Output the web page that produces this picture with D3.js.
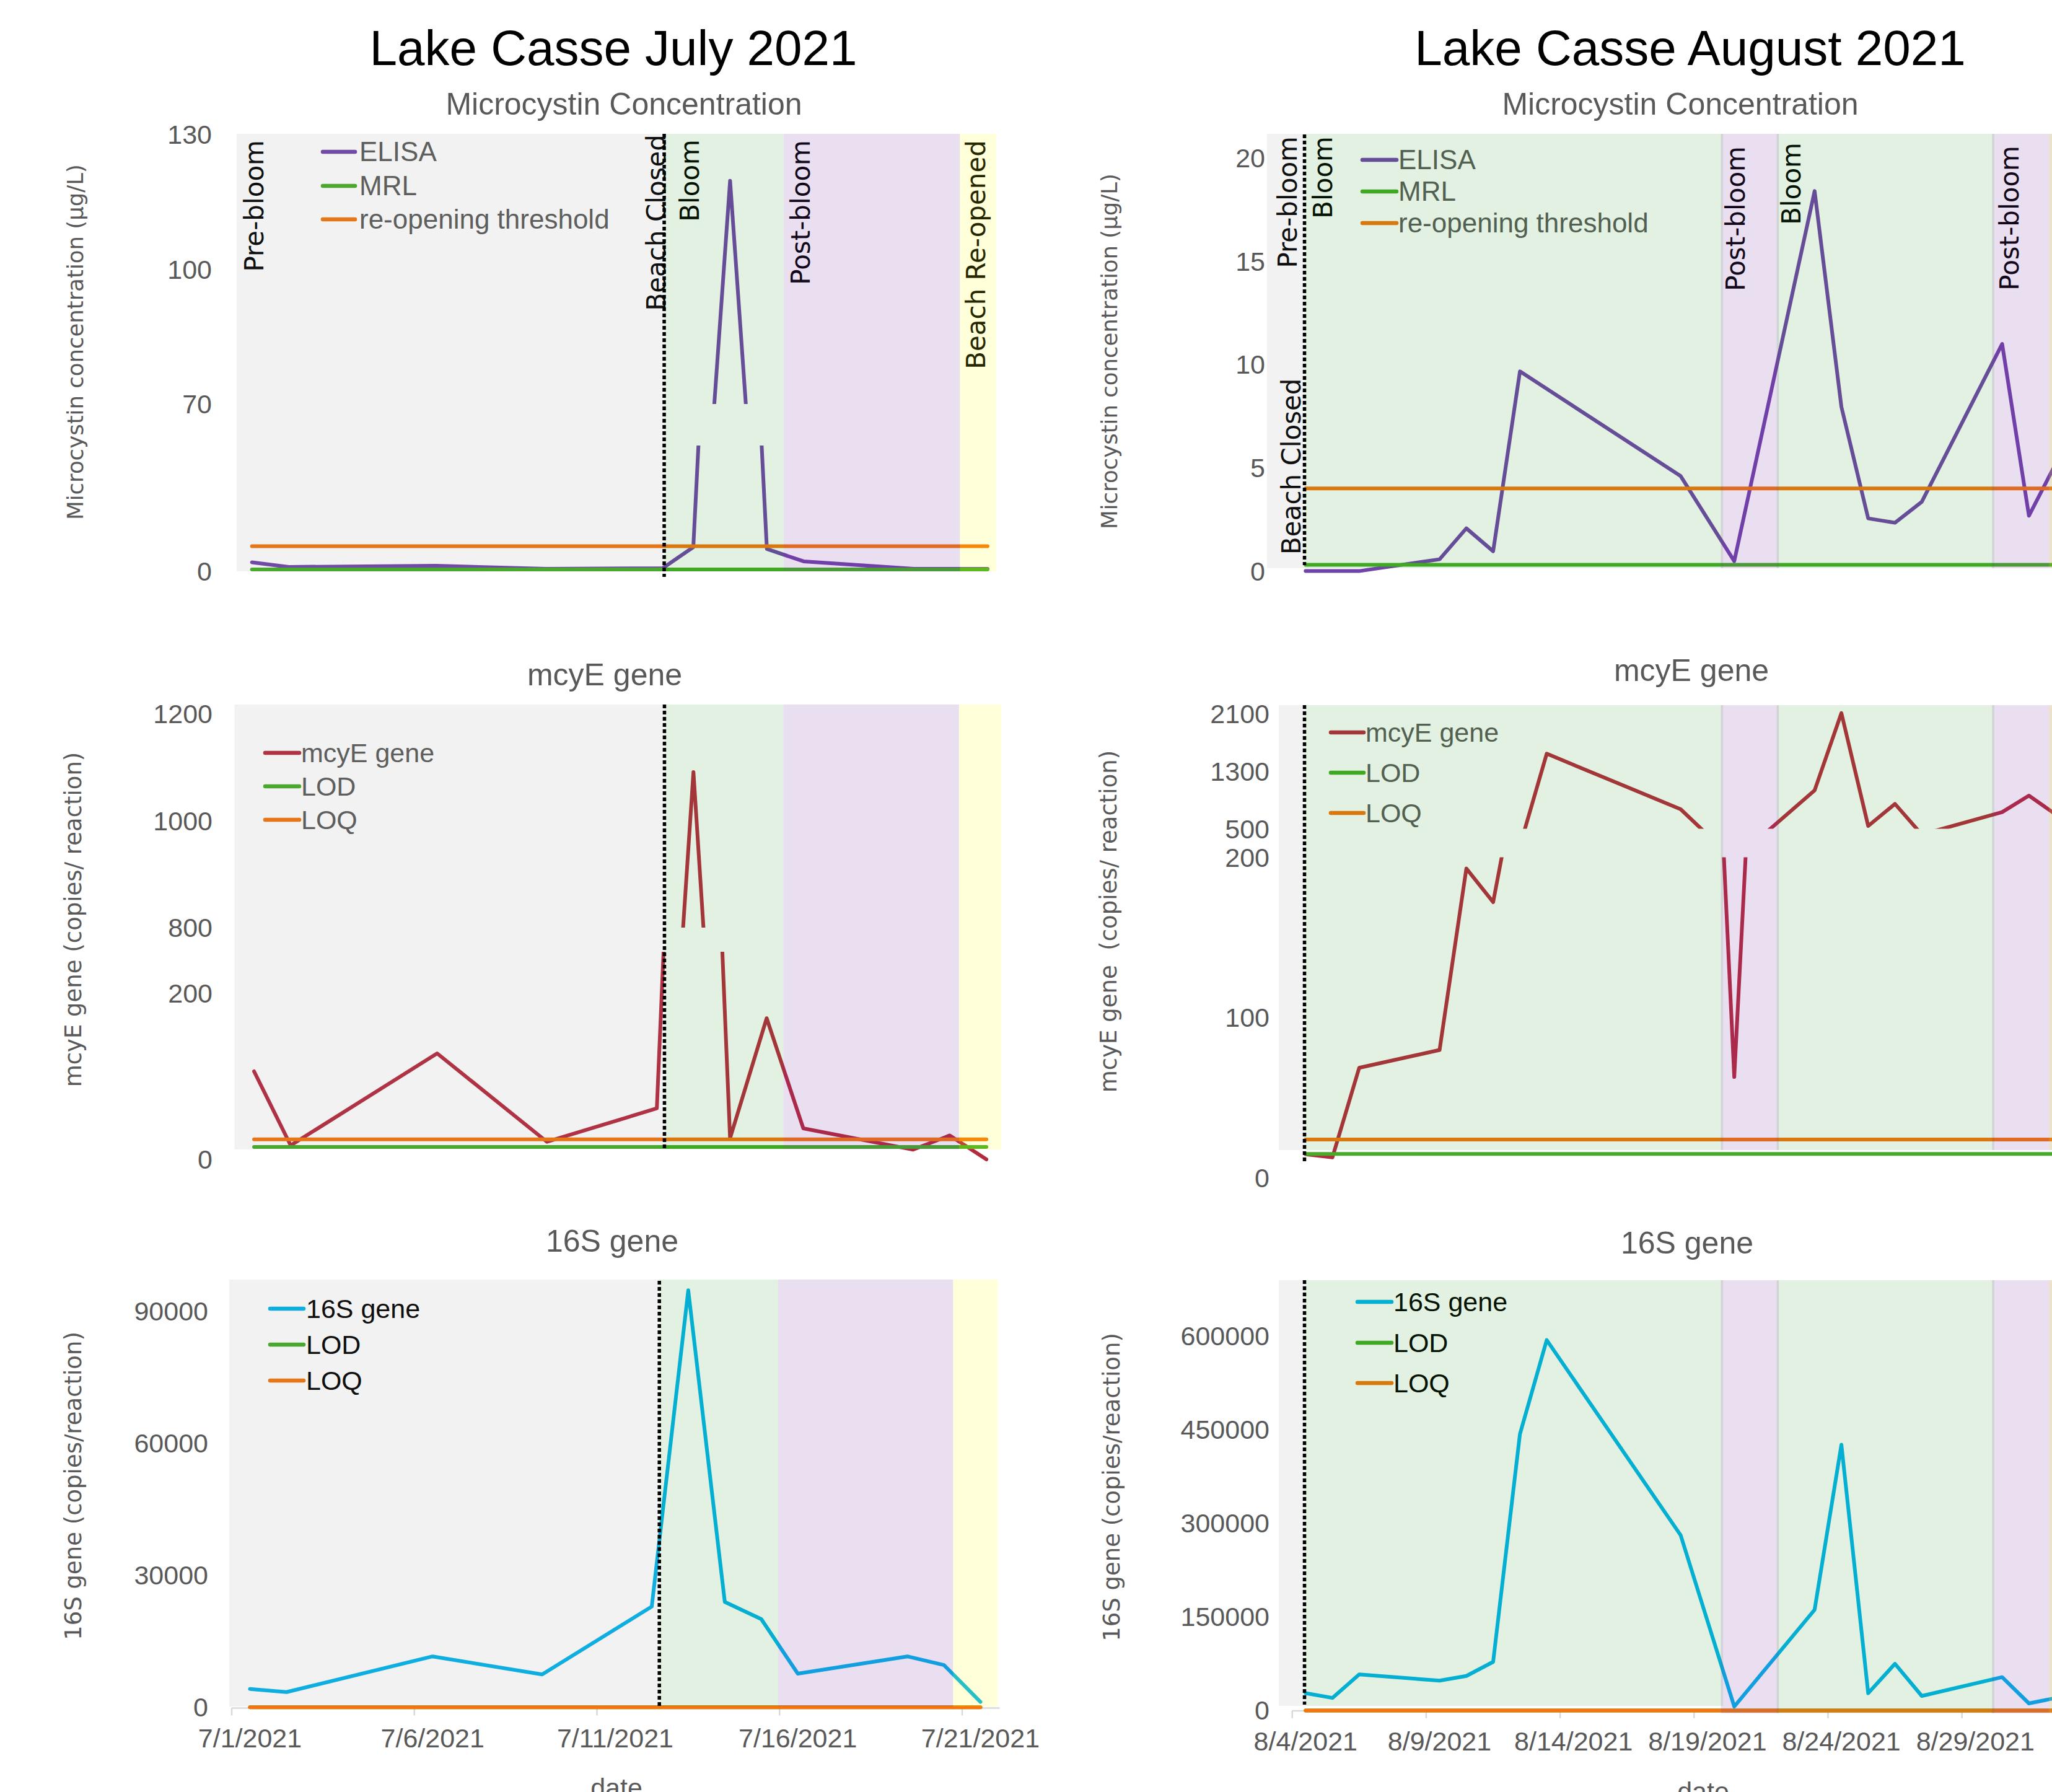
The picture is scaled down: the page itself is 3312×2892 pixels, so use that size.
<!DOCTYPE html>
<html><head><meta charset="utf-8">
<script src="https://cdn.jsdelivr.net/npm/d3@7"></script>
<style>
html,body{margin:0;padding:0;background:#fff;}
svg{display:block;}
</style></head><body>
<script>
// ================= DATA =================
const julyDates = ["2021-07-01 12:00","2021-07-02 12:00","2021-07-06 12:00","2021-07-09 12:00","2021-07-12 12:00","2021-07-13 12:00","2021-07-14 12:00","2021-07-15 12:00","2021-07-16 12:00","2021-07-19 12:00","2021-07-20 12:00","2021-07-21 12:00"];
const julyElisaDates = ["2021-07-01 12:00","2021-07-02 12:00","2021-07-06 12:00","2021-07-09 12:00","2021-07-12 16:00","2021-07-13 12:00","2021-07-14 12:00","2021-07-15 12:00","2021-07-16 12:00","2021-07-19 12:00","2021-07-20 12:00","2021-07-21 12:00"];
const julyElisa = [1.43, 0.69, 0.89, 0.39, 0.49, 3.84, 119.7, 3.55, 1.58, 0.39, 0.39, 0.39];
const julyMcyE  = [106, 16.8, 127.6, 21.1, 61.4, 1091, 25.4, 170, 37.3, 11.7, 28.8, 0];
const july16S   = [4190, 3470, 11580, 7480, 22900, 94800, 23970, 20050, 7660, 11580, 9620, 1250];

const augDates = ["2021-08-04 12:00","2021-08-05 12:00","2021-08-06 12:00","2021-08-09 12:00","2021-08-10 12:00","2021-08-11 12:00","2021-08-12 12:00","2021-08-13 12:00","2021-08-18 12:00","2021-08-20 12:00","2021-08-23 12:00","2021-08-24 12:00","2021-08-25 12:00","2021-08-26 12:00","2021-08-27 12:00","2021-08-30 12:00","2021-08-31 12:00","2021-09-01 12:00"];
const augElisa = [0, 0, 0, 0.57, 2.07, 0.96, 9.67, null, 4.6, 0.48, 18.4, 7.95, 2.55, 2.34, 3.35, 11.0, 2.68, 5.2];
const augMcyE  = [14.8, 12.8, 68.7, 79.8, 193, 172, 260, 1545, 772, 63, 1035, 2110, 539, 846, 420, 732, 961, 700];
const aug16S   = [27600, 20100, 57700, 47700, 55200, 77800, 442500, 593000, 280500, 6300, 161300, 425500, 27600, 74700, 23200, 53300, 11300, 20000];

const mrlValue = 0.3;          // µg/L
const thresholdValue = 4;      // µg/L re-opening threshold
const lodValue = 15;           // copies/reaction
const loqValue = 24;           // copies/reaction

// y tick labels
const julyElisaTicks = [0, 70, 100, 130];
const julyMcyETicks  = [0, 200, 800, 1000, 1200];
const july16STicks   = [0, 30000, 60000, 90000];
const augElisaTicks  = [0, 5, 10, 15, 20];
const augMcyETicks   = [0, 100, 200, 500, 1300, 2100];
const aug16STicks    = [0, 150000, 300000, 450000, 600000];

// broken-axis segments (value domains)
const julyElisaSegments = [[0, 20], [70, 130]];
const julyMcyESegments  = [[0, 250], [800, 1200]];
const july16SSegments   = [[0, 90000]];
const augElisaSegments  = [[0, 20]];
const augMcyESegments   = [[0, 200], [500, 2100]];
const aug16SSegments    = [[0, 600000]];

// x tick dates
const julyXTicks = ["2021-07-01 00:00","2021-07-06 00:00","2021-07-11 00:00","2021-07-16 00:00","2021-07-21 00:00"];
const augXTicks  = ["2021-08-04 00:00","2021-08-09 00:00","2021-08-14 00:00","2021-08-19 00:00","2021-08-24 00:00","2021-08-29 00:00"];

// phases (shaded periods)
const julyPhases = [
  {kind:"gray",   start:null,               end:"2021-07-12 17:00"},
  {kind:"green",  start:"2021-07-12 17:00", end:"2021-07-15 23:00"},
  {kind:"purple", start:"2021-07-15 23:00", end:"2021-07-20 18:00"},
  {kind:"yellow", start:"2021-07-20 18:00", end:null}
];
const augPhases = [
  {kind:"gray",   start:null,               end:"2021-08-04 11:00"},
  {kind:"green",  start:"2021-08-04 11:00", end:"2021-08-20 02:00"},
  {kind:"purple", start:"2021-08-20 00:00", end:"2021-08-22 04:00"},
  {kind:"green",  start:"2021-08-22 02:00", end:"2021-08-30 05:00"},
  {kind:"purple", start:"2021-08-30 03:00", end:null},
  {kind:"yellow", start:"2021-09-01 06:00", end:null}
];
const julyBeachClosed = "2021-07-12 17:00";
const augBeachClosed  = "2021-08-04 11:00";

const julyPhaseLabels = [
  {text:"Pre-bloom",       at:"2021-07-01 19:25"},
  {text:"Beach Closed",    at:"2021-07-12 17:48"},
  {text:"Bloom",           at:"2021-07-13 15:39"},
  {text:"Post-bloom",      at:"2021-07-16 16:00"},
  {text:"Beach Re-opened", at:"2021-07-21 10:26"}
];
const augPhaseLabels = [
  {text:"Pre-bloom",    at:"2021-08-04 04:03"},
  {text:"Beach Closed", at:"2021-08-04 07:23"},
  {text:"Bloom",        at:"2021-08-05 11:41"},
  {text:"Post-bloom",   at:"2021-08-20 21:21"},
  {text:"Bloom",        at:"2021-08-22 23:17"},
  {text:"Post-bloom",   at:"2021-08-31 02:40"}
];

// ================= STYLE / LAYOUT =================
const W = 3312, H = 2892;
const T = d3.timeParse("%Y-%m-%d %H:%M");
const TXT = "#595959";
const COL = {elisa:"#7043aa", mrl:"#44ac26", thr:"#f3750c", mcye:"#b5293d", s16:"#00b4ec"};
const OVER = {gray:"rgba(128,140,128,0.11)", green:"rgba(40,150,30,0.13)", purple:"rgba(112,48,160,0.155)", yellow:"rgba(255,255,0,0.15)"};
const SANS = '"Liberation Sans", Arial, sans-serif';
const WIDE = '"DejaVu Sans", Verdana, sans-serif';
const LW = 6;

const svg = d3.select("body").append("svg").attr("width", W).attr("height", H)
  .style("font-family", SANS);
svg.append("rect").attr("width", W).attr("height", H).attr("fill", "#fff");
const defs = svg.append("defs");

// main titles
[["Lake Casse July 2021", 990], ["Lake Casse August 2021", 2728]].forEach(([t, cx]) => {
  svg.append("text").attr("x", cx).attr("y", 105).attr("text-anchor", "middle")
    .attr("font-size", 80).attr("fill", "#000").text(t);
});

function constSeries(dates, v) { return {dates:[dates[0], dates[dates.length-1]], values:[v, v]}; }

const julyDom = [T("2021-07-01 00:00"), T("2021-07-22 00:00")];
const augDom  = [T("2021-08-04 00:00"), T("2021-09-04 00:00")];

const panels = [
  { id:"jt", title:"Microcystin Concentration", titleX:1007, titleY:185,
    ytitle:"Microcystin concentration (µg/L)", ytX:121, ytY:552, ytSize:35.5,
    xDom:julyDom, xr:[377, 1623.6], bgX:[382, 1608], bgY:[216, 922],
    segs:julyElisaSegments, segR:[[922, 719], [652, 217]], ticks:julyElisaTicks, tickX:342,
    series:[
      {dates:julyElisaDates, values:julyElisa, color:COL.elisa},
      {...constSeries(julyElisaDates, mrlValue), color:COL.mrl},
      {...constSeries(julyElisaDates, thresholdValue), color:COL.thr}],
    legend:{x0:521, x1:573, tx:580, ys:[245, 300, 354], size:44, color:TXT,
      names:["ELISA","MRL","re-opening threshold"], colors:[COL.elisa, COL.mrl, COL.thr]},
    phases:julyPhases, closed:julyBeachClosed, dotY:[216, 931],
    labels:julyPhaseLabels, labelTops:[226, 217, 225, 226, 226] },
  { id:"jm", title:"mcyE gene", titleX:976, titleY:1106,
    ytitle:"mcyE gene (copies/ reaction)", ytX:118, ytY:1484, ytSize:37,
    xDom:julyDom, xr:[380.5, 1621.6], bgX:[378.5, 1616], bgY:[1137, 1855],
    segs:julyMcyESegments, segR:[[1871, 1536], [1497, 1152]], ticks:julyMcyETicks, tickX:343,
    series:[
      {dates:julyDates, values:julyMcyE, color:COL.mcye},
      {...constSeries(julyDates, lodValue), color:COL.mrl},
      {...constSeries(julyDates, loqValue), color:COL.thr}],
    legend:{x0:428, x1:483, tx:486, ys:[1215, 1269, 1323], size:43, color:TXT,
      names:["mcyE gene","LOD","LOQ"], colors:[COL.mcye, COL.mrl, COL.thr]},
    phases:julyPhases, closed:julyBeachClosed, dotY:[1137, 1855] },
  { id:"jb", title:"16S gene", titleX:988, titleY:2020,
    ytitle:"16S gene (copies/reaction)", ytX:118, ytY:2398, ytSize:37,
    xDom:julyDom, xr:[374, 1611.95], bgX:[370, 1610.6], bgY:[2065, 2754],
    segs:july16SSegments, segR:[[2755.4, 2116.4]], ticks:july16STicks, tickX:336,
    series:[
      {dates:julyDates, values:july16S, color:COL.s16},
      {...constSeries(julyDates, lodValue), color:COL.mrl},
      {...constSeries(julyDates, loqValue), color:COL.thr}],
    legend:{x0:436, x1:490, tx:494, ys:[2112, 2170, 2228], size:43, color:"#000",
      names:["16S gene","LOD","LOQ"], colors:[COL.s16, COL.mrl, COL.thr]},
    phases:julyPhases, closed:julyBeachClosed, dotY:[2067, 2755],
    xaxis:{ticks:julyXTicks, y:2756.5, x0:374, labelY:2820, titleX:995, titleY:2900} },
  { id:"at", title:"Microcystin Concentration", titleX:2712, titleY:185,
    ytitle:"Microcystin concentration (µg/L)", ytX:1790, ytY:567, ytSize:35.5,
    xDom:augDom, xr:[2085.7, 3426.1], bgX:[2045, 3420], bgY:[216, 917],
    segs:augElisaSegments, segR:[[921.6, 255.1]], ticks:augElisaTicks, tickX:2042,
    series:[
      {dates:augDates, values:augElisa, color:COL.elisa},
      {...constSeries(augDates, mrlValue), color:COL.mrl},
      {...constSeries(augDates, thresholdValue), color:COL.thr}],
    legend:{x0:2199, x1:2254, tx:2257, ys:[258, 309, 360], size:44, color:TXT,
      names:["ELISA","MRL","re-opening threshold"], colors:[COL.elisa, COL.mrl, COL.thr]},
    phases:augPhases, closed:augBeachClosed, dotY:[217, 912],
    labels:augPhaseLabels, labelTops:[220, null, 220, 236, 230, 235], labelBottoms:[null, 895] },
  { id:"am", title:"mcyE gene", titleX:2730, titleY:1099,
    ytitle:"mcyE gene  (copies/ reaction)", ytX:1789, ytY:1487, ytSize:37,
    xDom:augDom, xr:[2085.7, 3426.1], bgX:[2064, 3420], bgY:[1138, 1856],
    segs:augMcyESegments, segR:[[1901, 1383.5], [1337.5, 1152]], ticks:augMcyETicks, tickX:2049,
    series:[
      {dates:augDates, values:augMcyE, color:COL.mcye},
      {...constSeries(augDates, lodValue), color:COL.mrl},
      {...constSeries(augDates, loqValue), color:COL.thr}],
    legend:{x0:2148, x1:2201, tx:2204, ys:[1182, 1247, 1312], size:43, color:TXT,
      names:["mcyE gene","LOD","LOQ"], colors:[COL.mcye, COL.mrl, COL.thr]},
    phases:augPhases, closed:augBeachClosed, dotY:[1138, 1876] },
  { id:"ab", title:"16S gene", titleX:2723, titleY:2023,
    ytitle:"16S gene (copies/reaction)", ytX:1794, ytY:2400, ytSize:37,
    xDom:augDom, xr:[2085.7, 3426.1], bgX:[2064, 3420], bgY:[2066, 2753], lateBottom:2765,
    segs:aug16SSegments, segR:[[2760.4, 2155.6]], ticks:aug16STicks, tickX:2049,
    series:[
      {dates:augDates, values:aug16S, color:COL.s16},
      {...constSeries(augDates, lodValue), color:COL.mrl},
      {...constSeries(augDates, loqValue), color:COL.thr}],
    legend:{x0:2191, x1:2246, tx:2249, ys:[2101, 2167, 2232], size:43, color:"#000",
      names:["16S gene","LOD","LOQ"], colors:[COL.s16, COL.mrl, COL.thr]},
    phases:augPhases, closed:augBeachClosed, dotY:[2066, 2751],
    xaxis:{ticks:augXTicks, y:2761, x0:2085.5, labelY:2825, titleX:2749, titleY:2906} }
];

function drawPanel(p) {
  const g = svg.append("g");
  const x = d3.scaleTime().domain(p.xDom).range(p.xr);
  const segs = p.segs.map((d, i) => ({d, y: d3.scaleLinear().domain(d).range(p.segR[i])}));
  const yOf = v => { const s = segs.find(s => v >= s.d[0] - 1e-9 && v <= s.d[1] + 1e-9); return s.y(v); };

  // subtitle
  g.append("text").attr("x", p.titleX).attr("y", p.titleY).attr("text-anchor", "middle")
    .attr("font-size", 50).attr("fill", TXT).text(p.title);
  // y axis title
  g.append("text").attr("transform", `translate(${p.ytX},${p.ytY}) rotate(-90)`)
    .attr("text-anchor", "middle").attr("dominant-baseline", "central")
    .style("white-space", "pre").style("font-family", WIDE).attr("font-size", p.ytSize)
    .attr("fill", TXT).text(p.ytitle);
  // y tick labels
  g.selectAll("text.yt").data(p.ticks).join("text").attr("class", "yt")
    .attr("x", p.tickX).attr("y", d => yOf(d)).attr("dy", "0.35em").attr("text-anchor", "end")
    .attr("font-size", 43).attr("fill", TXT).text(d => d);

  // x axis
  if (p.xaxis) {
    const ax = p.xaxis;
    g.append("line").attr("x1", ax.x0).attr("x2", p.bgX[1] + 3).attr("y1", ax.y).attr("y2", ax.y)
      .attr("stroke", "#d9d9d9").attr("stroke-width", 2.5);
    const tks = ax.ticks.map(T);
    g.selectAll("line.xt").data(tks).join("line").attr("class", "xt")
      .attr("x1", d => x(d)).attr("x2", d => x(d)).attr("y1", ax.y).attr("y2", ax.y + 12)
      .attr("stroke", "#d9d9d9").attr("stroke-width", 2.5);
    g.selectAll("text.xl").data(tks).join("text").attr("class", "xl")
      .attr("x", d => x(d3.timeHour.offset(d, 12))).attr("y", ax.labelY).attr("text-anchor", "middle")
      .attr("font-size", 43).attr("fill", TXT).text(d3.timeFormat("%-m/%-d/%Y"));
    g.append("text").attr("x", ax.titleX).attr("y", ax.titleY).attr("text-anchor", "middle")
      .attr("font-size", 43).attr("fill", TXT).text("date");
  }

  // series, clipped per axis segment
  segs.forEach((s, i) => {
    const r = p.segR[i];
    const top = (i === segs.length - 1) ? p.bgY[0] - 10 : r[1];
    const bottom = (i === 0) ? r[0] + 25 : r[0];
    const cid = `clip-${p.id}-${i}`;
    defs.append("clipPath").attr("id", cid).append("rect")
      .attr("x", 0).attr("y", top).attr("width", W).attr("height", bottom - top);
    const sg = g.append("g").attr("clip-path", `url(#${cid})`);
    p.series.forEach(ser => {
      const pts = ser.dates.map((d, j) => ({t: T(d), v: ser.values[j]})).filter(q => q.v != null);
      const line = d3.line().x(q => x(q.t)).y(q => s.y(q.v));
      sg.append("path").attr("d", line(pts)).attr("fill", "none").attr("stroke", ser.color)
        .attr("stroke-width", LW).attr("stroke-linejoin", "round").attr("stroke-linecap", "round");
    });
  });

  // legend
  const L = p.legend;
  L.names.forEach((n, i) => {
    g.append("line").attr("x1", L.x0).attr("x2", L.x1).attr("y1", L.ys[i]).attr("y2", L.ys[i])
      .attr("stroke", L.colors[i]).attr("stroke-width", 6.5).attr("stroke-linecap", "round");
    g.append("text").attr("x", L.tx).attr("y", L.ys[i]).attr("dy", "0.35em")
      .attr("font-size", L.size).attr("fill", L.color).text(n);
  });

  // phase labels
  if (p.labels) {
    p.labels.forEach((lb, i) => {
      const bx = x(T(lb.at));
      const bottomY = p.labelBottoms && p.labelBottoms[i];
      const anchorY = bottomY ? bottomY : p.labelTops[i];
      g.append("text").attr("transform", `translate(${bx},${anchorY}) rotate(-90)`)
        .attr("text-anchor", bottomY ? "start" : "end")
        .style("font-family", WIDE).attr("font-size", 42).attr("fill", "#000").text(lb.text);
    });
  }

  // translucent phase overlays
  p.phases.forEach((ph, i) => {
    const x0 = ph.start ? x(T(ph.start)) : p.bgX[0];
    const x1 = ph.end ? x(T(ph.end)) : p.bgX[1];
    const yb = (p.lateBottom && i >= 2) ? p.lateBottom : p.bgY[1];
    g.append("rect").attr("x", x0).attr("y", p.bgY[0]).attr("width", Math.max(0, x1 - x0))
      .attr("height", yb - p.bgY[0]).attr("fill", OVER[ph.kind]);
  });

  // beach closed dotted line
  const cx = x(T(p.closed));
  g.append("line").attr("x1", cx).attr("x2", cx).attr("y1", p.dotY[0]).attr("y2", p.dotY[1])
    .attr("stroke", "#000").attr("stroke-width", 5.5).attr("stroke-dasharray", "6 4");
}

panels.forEach(drawPanel);
</script>
</body></html>
